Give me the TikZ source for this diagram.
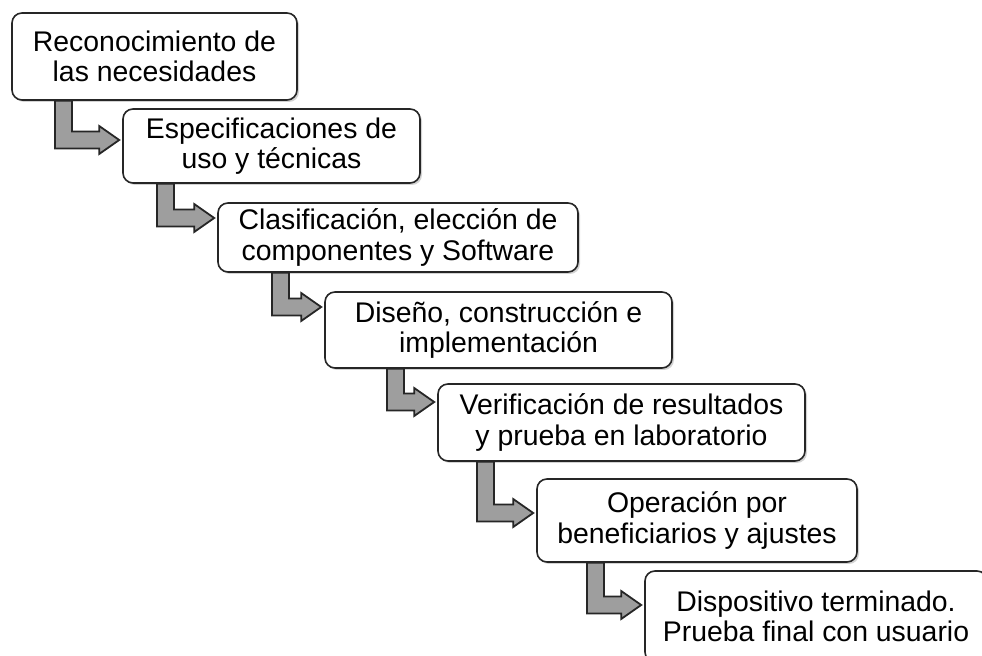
\documentclass[tikz,border=0pt]{standalone}
\usepackage{fontspec}
\setmainfont{Liberation Sans}
\usetikzlibrary{calc,shadows}

% elbow arrow: from node, to node, shaft x, tip y
\newcommand{\elbow}[4]{%
  \draw[elbow] let \p1=(#1.south), \p2=(#2.west), \p3=(#3,#4) in
    (\x3,\y1) -- ({\x3},{\y3-4.25pt}) -- ({\x2-11.5pt},{\y3-4.25pt})
    -- ({\x2-11.5pt},{\y3-7pt}) -- ({\x2-1.5pt},{\y3})
    -- ({\x2-11.5pt},{\y3+7pt}) -- ({\x2-11.5pt},{\y3+4.25pt})
    -- ({\x3+8.5pt},{\y3+4.25pt}) -- ({\x3+8.5pt},{\y1}) -- cycle;
}

\begin{document}
\begin{tikzpicture}[x=0.5pt,y=-0.5pt]

\tikzset{
  stage/.style={draw=black!85, line width=0.8pt, rounded corners=5pt,
    fill=white, align=center, inner sep=0pt,
    font=\fontsize{14.2}{15.2}\selectfont,
    drop shadow={shadow xshift=1pt, shadow yshift=-1pt, opacity=0.35}},
  elbow/.style={draw=black!85, line width=0.9pt, fill=black!38, line join=miter}
}

\useasboundingbox (0,0) rectangle (982,656);
\clip (0,0) rectangle (982,656);

\node[stage, minimum width=142.5pt, minimum height=43.5pt] (recon) at (154.5,56.5)
  {Reconocimiento de\\las necesidades};
\node[stage, minimum width=148.5pt, minimum height=37pt] (espec) at (271.5,146)
  {Especificaciones de\\uso y técnicas};
\node[stage, minimum width=180pt, minimum height=34.5pt] (clasif) at (398,237.5)
  {Clasificación, elección de\\componentes y Software};
\node[stage, minimum width=173.5pt, minimum height=38pt] (diseno) at (498.5,330)
  {Diseño, construcción e\\implementación};
\node[stage, minimum width=183.5pt, minimum height=38.5pt] (verif) at (621.5,422.5)
  {Verificación de resultados\\y prueba en laboratorio};
\node[stage, minimum width=160pt, minimum height=41.5pt] (operac) at (697,520.5)
  {Operación por\\beneficiarios y ajustes};
\node[stage, minimum width=171pt, minimum height=45.5pt] (dispos) at (816,616.5)
  {Dispositivo terminado.\\Prueba final con usuario};

\elbow{recon}{espec}{55}{140}
\elbow{espec}{clasif}{157}{218}
\elbow{clasif}{diseno}{272}{307}
\elbow{diseno}{verif}{387}{402}
\elbow{verif}{operac}{477}{513}
\elbow{operac}{dispos}{587}{605}

\end{tikzpicture}
\end{document}
